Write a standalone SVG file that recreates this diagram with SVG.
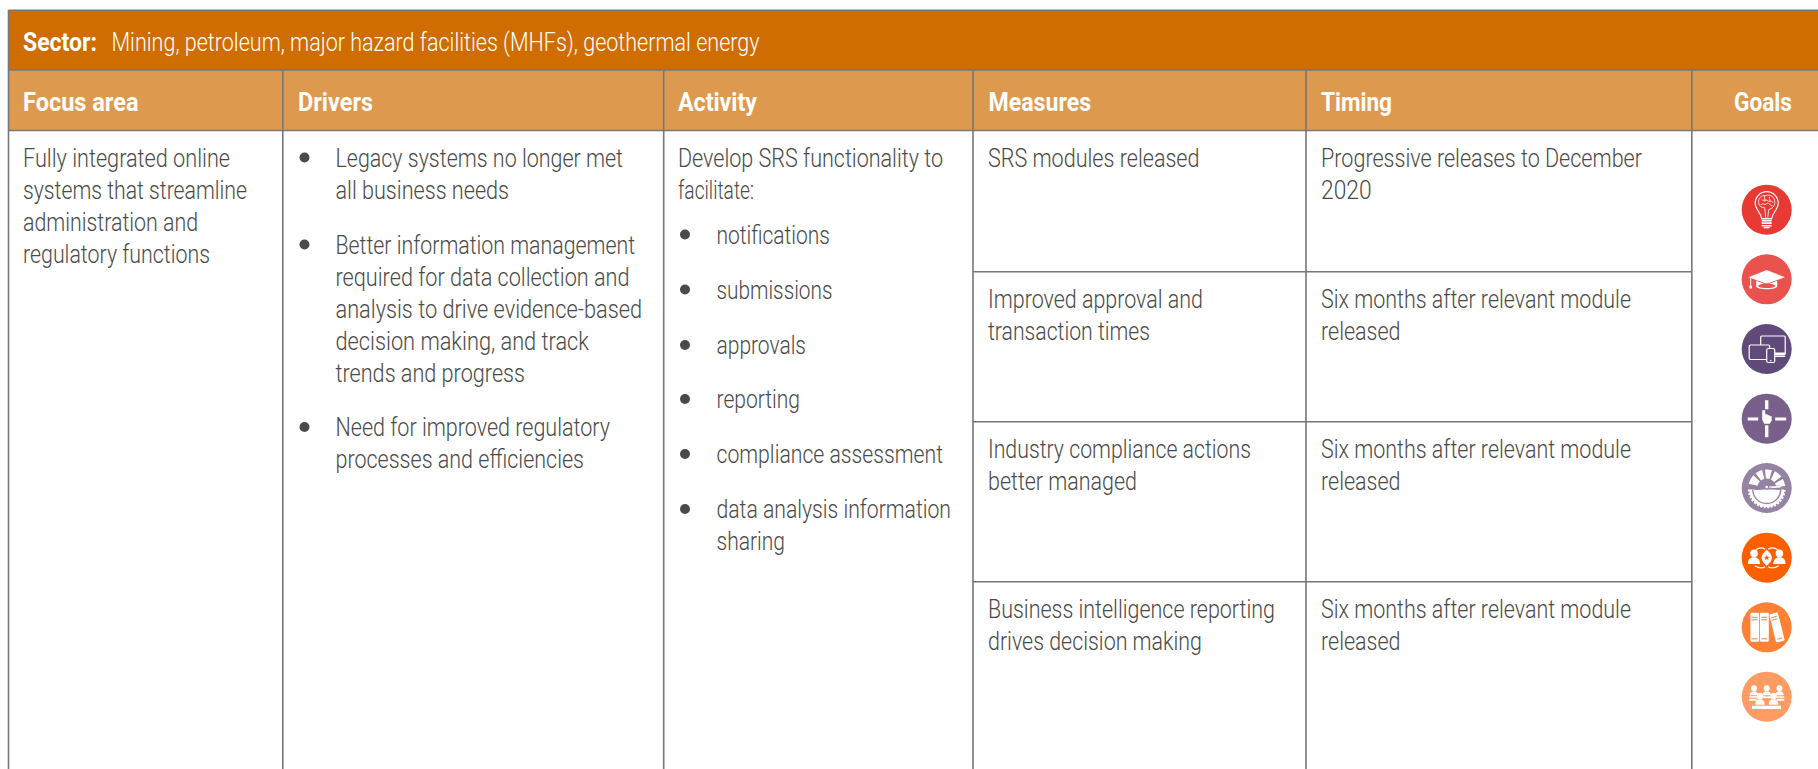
<svg xmlns="http://www.w3.org/2000/svg" width="1818" height="769" viewBox="0 0 1818 769">
<style>
text{font-family:Roboto,"Liberation Sans",sans-serif;font-size:25.5px;font-weight:300;fill:#4a4a4a}
.h{font-weight:700;fill:#fff;font-size:26px}
.w{fill:#fff}
.l{stroke:#777;stroke-width:1.6;fill:none}
.s{stroke:#fff;stroke-width:1.2;fill:none}
.t{stroke:#fff;stroke-width:.8;fill:none}
</style>
<rect width="1818" height="769" fill="#fff"/>
<g id="header">
<rect x="8" y="10" width="1810" height="60" fill="#d06d00"/>
<rect x="8" y="70" width="1810" height="60" fill="#dd9a4f"/>
<text class="h" x="23" y="50.5" textLength="74" lengthAdjust="spacingAndGlyphs">Sector:</text>
<text x="111.5" y="50.5" textLength="648" lengthAdjust="spacingAndGlyphs" style="fill:#fff">Mining, petroleum, major hazard facilities (MHFs), geothermal energy</text>
<text class="h" x="23" y="110.7" textLength="115.500" lengthAdjust="spacingAndGlyphs">Focus area</text>
<text class="h" x="298" y="110.7" textLength="75" lengthAdjust="spacingAndGlyphs">Drivers</text>
<text class="h" x="678" y="110.7" textLength="79" lengthAdjust="spacingAndGlyphs">Activity</text>
<text class="h" x="988.500" y="110.7" textLength="102.500" lengthAdjust="spacingAndGlyphs">Measures</text>
<text class="h" x="1321" y="110.7" textLength="71" lengthAdjust="spacingAndGlyphs">Timing</text>
<text class="h" x="1734" y="110.7" textLength="58" lengthAdjust="spacingAndGlyphs">Goals</text>
</g>
<g id="grid">
<path class="l" d="M8.500 10.300H1818M8.500 70H1818M8.500 130.500H1818M973 271.800H1691.500M973 421.800H1691.500M973 581.800H1691.500"/>
<path class="l" d="M8.500 10V769M282.800 70V769M663.700 70V769M973 70V769M1306 70V769M1691.800 70V769"/>
</g>
<g id="focus-area">
<text x="23" y="167" textLength="207" lengthAdjust="spacingAndGlyphs">Fully integrated online</text>
<text x="23" y="199" textLength="224" lengthAdjust="spacingAndGlyphs">systems that streamline</text>
<text x="23" y="231" textLength="175" lengthAdjust="spacingAndGlyphs">administration and</text>
<text x="23" y="263" textLength="187" lengthAdjust="spacingAndGlyphs">regulatory functions</text>
</g>
<g id="drivers">
<g fill="#4a4a4a"><circle cx="304.500" cy="157.500" r="5"/><circle cx="304.500" cy="244.500" r="5"/><circle cx="304.500" cy="427" r="5"/></g>
<text x="335.500" y="167" textLength="287.500" lengthAdjust="spacingAndGlyphs">Legacy systems no longer met</text>
<text x="335.500" y="199" textLength="173.500" lengthAdjust="spacingAndGlyphs">all business needs</text>
<text x="335.500" y="254" textLength="299.500" lengthAdjust="spacingAndGlyphs">Better information management</text>
<text x="335.500" y="286" textLength="294" lengthAdjust="spacingAndGlyphs">required for data collection and</text>
<text x="335.500" y="318" textLength="306.500" lengthAdjust="spacingAndGlyphs">analysis to drive evidence-based</text>
<text x="335.500" y="350" textLength="253.500" lengthAdjust="spacingAndGlyphs">decision making, and track</text>
<text x="335.500" y="382" textLength="189.500" lengthAdjust="spacingAndGlyphs">trends and progress</text>
<text x="335.500" y="436" textLength="274.500" lengthAdjust="spacingAndGlyphs">Need for improved regulatory</text>
<text x="335.500" y="468" textLength="248.500" lengthAdjust="spacingAndGlyphs">processes and efficiencies</text>
</g>
<g id="activity">
<g fill="#4a4a4a"><circle cx="685" cy="234.500" r="5"/><circle cx="685" cy="289.500" r="5"/><circle cx="685" cy="345" r="5"/><circle cx="685" cy="399" r="5"/><circle cx="685" cy="454" r="5"/><circle cx="685" cy="509" r="5"/></g>
<text x="678" y="167" textLength="265" lengthAdjust="spacingAndGlyphs">Develop SRS functionality to</text>
<text x="678" y="199" textLength="76" lengthAdjust="spacingAndGlyphs">facilitate:</text>
<text x="716.500" y="243.500" textLength="113.500" lengthAdjust="spacingAndGlyphs">notifications</text>
<text x="716.500" y="299" textLength="116" lengthAdjust="spacingAndGlyphs">submissions</text>
<text x="716.500" y="354" textLength="89.500" lengthAdjust="spacingAndGlyphs">approvals</text>
<text x="716.500" y="407.500" textLength="83.500" lengthAdjust="spacingAndGlyphs">reporting</text>
<text x="716.500" y="463" textLength="226.500" lengthAdjust="spacingAndGlyphs">compliance assessment</text>
<text x="716.500" y="517.500" textLength="234.500" lengthAdjust="spacingAndGlyphs">data analysis information</text>
<text x="716.500" y="549.500" textLength="68.500" lengthAdjust="spacingAndGlyphs">sharing</text>
</g>
<g id="measures">
<text x="988" y="167" textLength="211.500" lengthAdjust="spacingAndGlyphs">SRS modules released</text>
<text x="988" y="307.500" textLength="215" lengthAdjust="spacingAndGlyphs">Improved approval and</text>
<text x="988" y="339.500" textLength="162" lengthAdjust="spacingAndGlyphs">transaction times</text>
<text x="988" y="457.500" textLength="263" lengthAdjust="spacingAndGlyphs">Industry compliance actions</text>
<text x="988" y="489.500" textLength="149" lengthAdjust="spacingAndGlyphs">better managed</text>
<text x="988" y="617.500" textLength="287" lengthAdjust="spacingAndGlyphs">Business intelligence reporting</text>
<text x="988" y="649.500" textLength="214" lengthAdjust="spacingAndGlyphs">drives decision making</text>
</g>
<g id="timing">
<text x="1321" y="167" textLength="321" lengthAdjust="spacingAndGlyphs">Progressive releases to December</text>
<text x="1321" y="199" textLength="50.500" lengthAdjust="spacingAndGlyphs">2020</text>
<text x="1321" y="307.500" textLength="310" lengthAdjust="spacingAndGlyphs">Six months after relevant module</text>
<text x="1321" y="339.500" textLength="79.500" lengthAdjust="spacingAndGlyphs">released</text>
<text x="1321" y="457.500" textLength="310" lengthAdjust="spacingAndGlyphs">Six months after relevant module</text>
<text x="1321" y="489.500" textLength="79.500" lengthAdjust="spacingAndGlyphs">released</text>
<text x="1321" y="617.500" textLength="310" lengthAdjust="spacingAndGlyphs">Six months after relevant module</text>
<text x="1321" y="649.500" textLength="79.500" lengthAdjust="spacingAndGlyphs">released</text>
</g>
<g id="goals">
<g id="goal-1" transform="translate(1766.700 209.700)">
<circle r="25" fill="#e63a33"/>
<path class="s" d="M-5 9C-5.500 3-11.500 0-11.500-6.500A11.500 11.500 0 1 1 11.500-6.500C11.500 0 5.500 3 5 9Z"/>
<path class="t" d="M-8-7C-9-11-5-15-1-14C3-16 8-13 8-8C9-4 5-1 2 0L1 8M-8-7C-8-3-4-2-2-2L-1 8M-5-10C-3-8-1-11 1-9C3-7 5-10 6-7M-6-5C-4-7-2-4 0-6C2-8 3-4 6-4M-2-14C-3-11-1-10-2-8M3-13C2-11 4-10 3-8"/>
<path class="w" d="M-5 10h10v1.800h-10zM-5 12.600h10v1.800h-10zM-5 15.200h10v1.500h-10zM-3 17.300h6v1.200h-6z"/>
</g>
<g id="goal-2" transform="translate(1766.700 279.300)">
<circle r="25" fill="#ea534d"/>
<path class="w" d="M-18.300-2L0-9.300L18.300-2L0 4.500Z"/>
<path class="w" d="M-10.500 1.500L0 5.500L10.500 1.500V7C10.500 11-10.500 11-10.500 7Z"/>
<ellipse cx="0" cy="6.500" rx="8.500" ry="2.300" fill="#ea534d"/>
<path class="w" d="M-16.500-1.500h1V6.500h.6l.4 2.700h-3l.4-2.700h.6z"/>
</g>
<g id="goal-3" transform="translate(1766.700 349)">
<circle r="25" fill="#5f4a79"/>
<rect class="s" x="-6" y="-13" width="24.500" height="18.500" rx="1"/>
<path class="w" d="M8 3.500h10.500v2h-10.500zM8 6.500h10.500v1.500h-10.500z"/>
<rect x="-17.500" y="-4" width="20.500" height="14.500" rx="1.500" fill="#5f4a79" stroke="#fff" stroke-width="1.200"/>
<rect x="0" y="-.5" width="8" height="14" rx="1.500" fill="#5f4a79" stroke="#fff" stroke-width="1.200"/>
<circle cx="4" cy="11.700" r=".8" class="w"/>
</g>
<g id="goal-4" transform="translate(1766.700 418.700)">
<circle r="25" fill="#78608a"/>
<path class="w" d="M-1.700-18.500h3.400v9h-3.400zM-1.700 6.500h3.400v12h-3.400zM-19-1.300h10.500v3h-10.500zM8.500-1.300h11v3h-11z"/>
<path class="w" d="M-4.500-8.500H-1.500V-4.500H1V-3.500H3V-2.500H5V2L3 5H-2.500L-4.500 1Z"/>
</g>
<g id="goal-5" transform="translate(1766.700 488)">
<circle r="25" fill="#9583a3"/>
<g fill="none" stroke="#fff" stroke-width="9"><path d="M-13.600-3.200A14 14 0 0 1-10.100-9.700"/><path d="M-8.400-11.200A14 14 0 0 1-3.500-13.600"/><path d="M-1.200-13.900A14 14 0 0 1 4-13.400"/><path d="M6.200-12.600A14 14 0 0 1 11-8.700"/><path d="M12.200-6.800A14 14 0 0 1 14-1.500"/></g>
<path d="M0-1H14" stroke="#9583a3" stroke-width="2.500" fill="none"/>
<path class="w" d="M-17.500 1.500H17.500A17.500 17.500 0 0 1-17.500 1.500Z"/>
<path d="M-17.600 1.500A17.600 17.600 0 0 0 17.600 1.500" fill="none" stroke="#fff" stroke-width="2.500" stroke-dasharray="2 1.500"/>
<path d="M-14 1.500A14 14 0 0 0 14 1.500" fill="none" stroke="#9583a3" stroke-width="1.300"/>
<path d="M0-1.500L14-2V-.5L0 .5Z" class="w"/>
<path d="M-12 1.500C-6 1.500-3 .5-2 0H2L14 1.500" stroke="#9583a3" stroke-width="1.200" fill="none"/>
<circle cy="-1" r="2.500" fill="#9583a3"/>
<circle cy="-1" r="1.300" class="w"/>
</g>
<g id="goal-6" transform="translate(1766.700 557.700)">
<circle r="25" fill="#fb5f00"/>
<circle cx="-12.700" cy="-4.300" r="3.800" class="w"/><circle cx="12.700" cy="-4.300" r="3.800" class="w"/>
<path class="w" d="M-18.800 6.300C-18.800 1-16-.5-12.700-.5C-9.500-.5-7 1-6.500 6.300ZM18.800 6.300C18.800 1 16-.5 12.700-.5C9.500-.5 7 1 6.500 6.300Z"/>
<path class="w" d="M0-8C3-5.500 5.200-2.500 5.200 0C5.200 2.500 3 5.500 0 8C-3 5.500-5.200 2.500-5.200 0C-5.200-2.500-3-5.500 0-8Z"/>
<path fill="#fb5f00" d="M0-2.800L.8-.9L2.800-.8L1.300.5L1.800 2.500L0 1.400L-1.800 2.500L-1.300.5L-2.800-.8L-.8-.9Z"/>
<path class="s" d="M-11-8C-8-10-4-10-1.500-8.500M1.500-8.500C4-10 8-10 11-8M-12 8C-8 10.500-4 10.500-1.500 9M1.500 9C4 10.500 8 10.500 12 8"/>
</g>
<g id="goal-7" transform="translate(1766.700 627.300)">
<circle r="25" fill="#ff8136"/>
<rect class="w" x="-16.300" y="-14.500" width="8.800" height="29" rx="1.200"/>
<rect class="w" x="-6.700" y="-14.500" width="8.800" height="29" rx="1.200"/>
<rect class="w" x="5.800" y="-14.300" width="8.800" height="29" rx="1.200" transform="rotate(-14 10 0)"/>
<path d="M-15-10h6M-15-7.500h6M-15 11.500h6M-5.500-10h6M-5.500-7.500h6M-5.500 11.500h6" stroke="#ff8136" stroke-width="1"/>
<path d="M4.500-9.500L10-11M5-7L10.500-8.500M10.500 12L15.500 10.500" stroke="#ff8136" stroke-width="1"/>
</g>
<g id="goal-8" transform="translate(1766.700 696.700)">
<circle r="25" fill="#ff9c63"/>
<path class="w" d="M-14.700 9h29v3.300h-29z"/>
<circle cx="-12.700" cy="-8.500" r="3" class="w"/><circle cy="-8.500" r="3" class="w"/><circle cx="12.700" cy="-8.500" r="3" class="w"/>
<circle cx="-6.700" cy="-.5" r="3.200" class="w"/><circle cx="6.700" cy="-.5" r="3.200" class="w"/>
<path class="w" d="M-17-1.500C-17-4-15-5.500-12.700-5.500C-10.500-5.500-8.500-4-8.500-1.500ZM-4.300-1.500C-4.300-4-2.300-5.500 0-5.500C2.300-5.500 4.300-4 4.300-1.500ZM8.500-1.500C8.500-4 10.500-5.500 12.700-5.500C15-5.500 17-4 17-1.500Z"/>
<path class="w" d="M-17.500-.5h9v1.500h-9zM-17.500 2h7.500v2h-7.500zM-3.500-.5h7v2h-7zM8.500-.5h9v1.500h-9zM10 2h7.500v2h-7.500z"/>
<path class="w" d="M-11.500 8C-11.500 4-9.500 2.500-6.700 2.500C-4 2.500-2 4-2 8ZM2 8C2 4 4 2.500 6.700 2.500C9.500 2.500 11.500 4 11.500 8Z"/>
</g>
</g>
</svg>
